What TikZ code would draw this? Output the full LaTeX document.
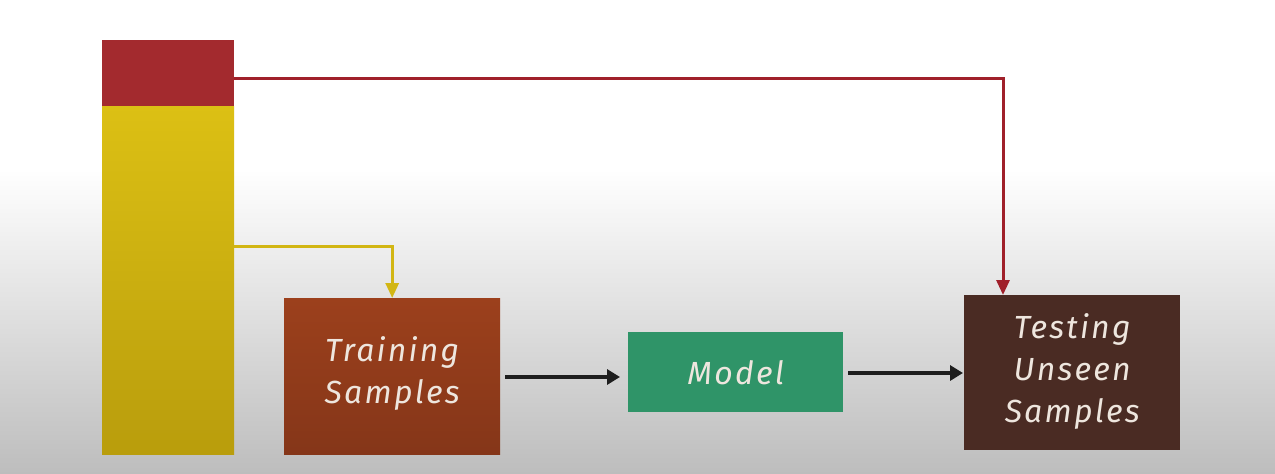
\documentclass[tikz,border=0pt]{standalone}
\usepackage{fontspec}
\setmainfont{Fira Sans}
\usetikzlibrary{arrows.meta,calc}
\definecolor{barred}{HTML}{A32A2E}
\definecolor{baryelT}{HTML}{DCC014}
\definecolor{baryelB}{HTML}{B99D0C}
\definecolor{linered}{HTML}{A0202A}
\definecolor{lineyel}{HTML}{D2B614}
\definecolor{trainT}{HTML}{9C401C}
\definecolor{trainB}{HTML}{853619}
\definecolor{modelc}{HTML}{2F9468}
\definecolor{testc}{HTML}{4A2B23}
\definecolor{txtc}{HTML}{EEE6DE}
\definecolor{bgbot}{HTML}{BDBDBD}
\definecolor{arrc}{HTML}{1E1E1E}
\tikzset{
  boxlabel/.style={text=txtc, align=center, font=\fontsize{32}{42}\selectfont\itshape\addfontfeatures{LetterSpace=7}, inner sep=0pt},
  redconn/.style={draw=linered, line width=3pt, -{Triangle[length=15pt,width=13pt]}},
  yelconn/.style={draw=lineyel, line width=3pt, -{Triangle[length=15pt,width=13pt]}},
  blkconn/.style={draw=arrc, line width=4pt, -{Triangle[length=13pt,width=15pt]}},
}
\begin{document}
\begin{tikzpicture}[x=1pt,y=-1pt]
\useasboundingbox (0,0) rectangle (1275,474);
% background
\fill[white] (0,0) rectangle (1275,170);
\shade[top color=white, bottom color=bgbot] (0,169) rectangle (1275,474);
% bars
\node[fill=barred, minimum width=132pt, minimum height=66pt, inner sep=0pt, anchor=north west] (redbar) at (102,40) {};
\shade[top color=baryelT, bottom color=baryelB] (102,106) rectangle (234,454);
\node[minimum width=132pt, minimum height=348pt, inner sep=0pt, anchor=north west] (yelbar) at (102,106) {};
% boxes
\shade[top color=trainT, bottom color=trainB] (284,298) rectangle (500,454);
\node[minimum width=216pt, minimum height=156pt, inner sep=0pt, anchor=north west] (train) at (284,298) {};
\node[boxlabel] at ($(train.center)+(0,-3)$) {Training\\Samples};
\node[fill=modelc, minimum width=215pt, minimum height=80pt, inner sep=0pt, anchor=north west] (model) at (628,332) {};
\node[boxlabel] at (model.center) {Model};
\node[fill=testc, minimum width=216pt, minimum height=155pt, inner sep=0pt, anchor=north west] (test) at (964,295) {};
\node[boxlabel] at ($(test.center)+(0,-1)$) {Testing\\Unseen\\Samples};
% connectors
\coordinate (redstart) at (redbar.east |- 0,78);
\coordinate (redend) at (1003,0);
\draw[redconn] (redstart) -| (redend |- test.north);
\coordinate (yelstart) at (yelbar.east |- 0,246);
\draw[yelconn] (yelstart) -| (train.north);
\draw[blkconn, shorten <=5pt, shorten >=8pt] (train.east |- 0,377) -- (model.west |- 0,377);
\draw[blkconn, shorten <=5pt, shorten >=1pt] (model.east |- 0,373) -- (test.west |- 0,373);
\end{tikzpicture}
\end{document}
